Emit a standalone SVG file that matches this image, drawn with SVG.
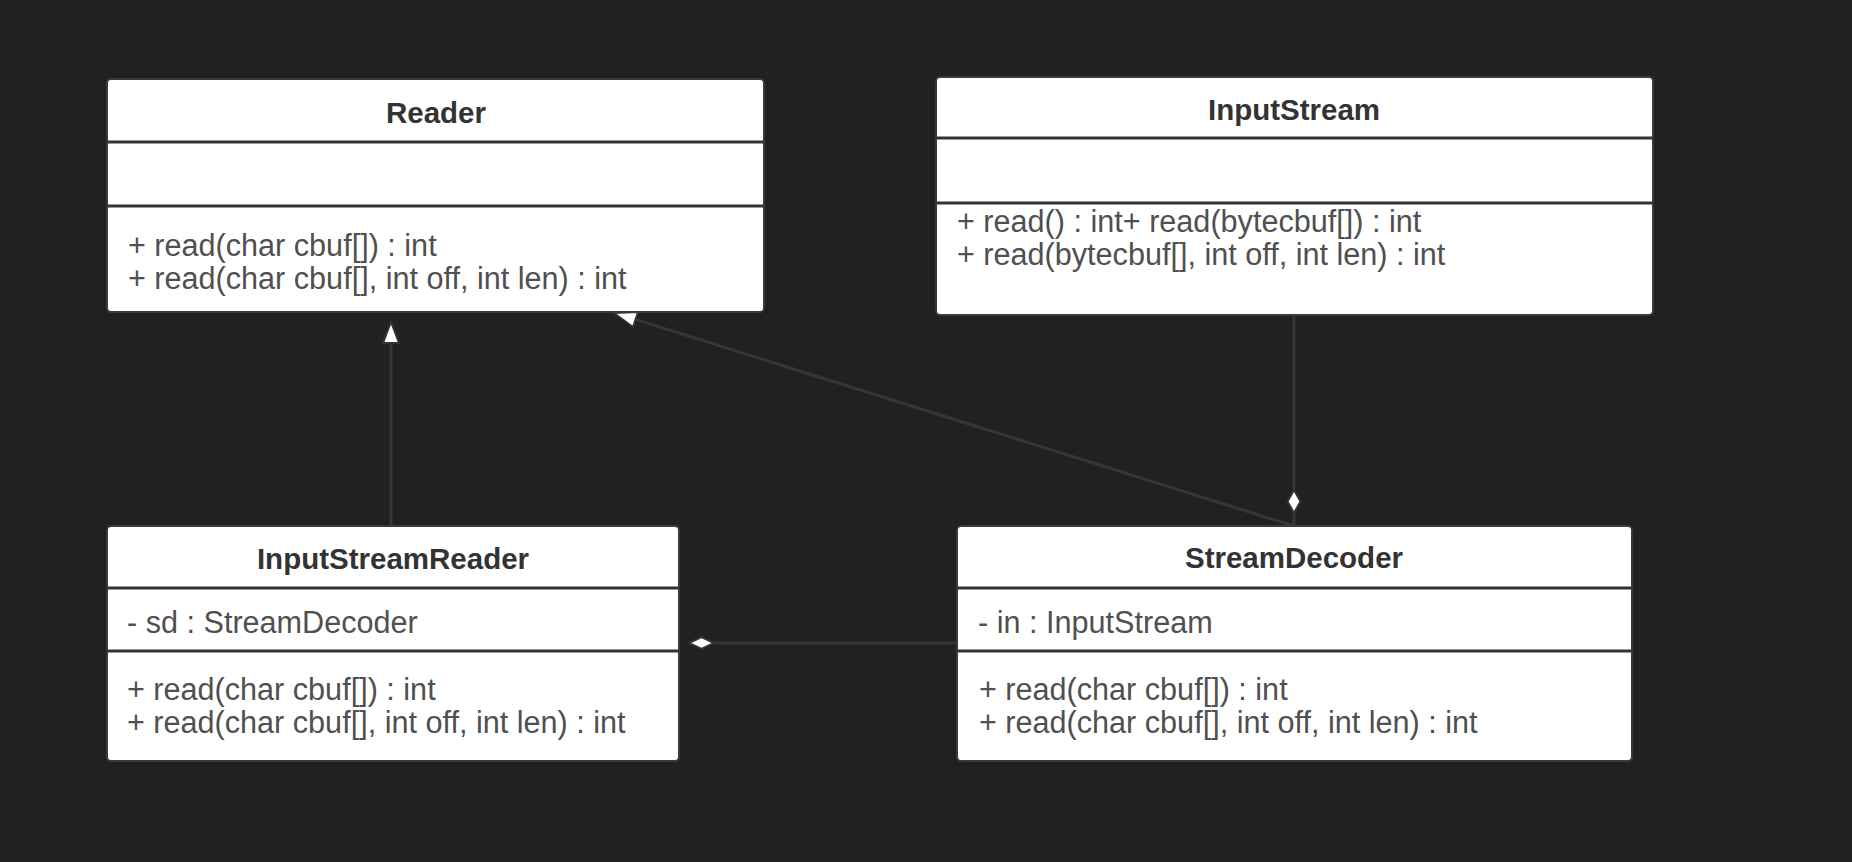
<svg xmlns="http://www.w3.org/2000/svg" width="1852" height="862" viewBox="0 0 1852 862">
<style>
.box{fill:#ffffff;stroke:#3a3a3a;stroke-width:2}
.div{stroke:#333333;stroke-width:3}
.title{font-family:"Liberation Sans",Arial,sans-serif;font-weight:bold;font-size:29.5px;fill:#333333;text-anchor:middle}
.txt{font-family:"Liberation Sans",Arial,sans-serif;font-size:30.6px;fill:#505050}
.conn{stroke:#363636;stroke-width:3;fill:none}
.head{fill:#ffffff;stroke:#333333;stroke-width:2;stroke-linejoin:miter}
</style>
<rect x="0" y="0" width="1852" height="862" fill="#212121"/>

<g id="connectors">
  <!-- InputStreamReader to Reader (generalization) -->
  <line class="conn" x1="391" y1="343" x2="391" y2="525"/>
  <polygon class="head" points="391,322 383,343 399,343"/>
  <!-- StreamDecoder to Reader (generalization) -->
  <line class="conn" x1="635.4" y1="319.4" x2="1294" y2="526"/>
  <polygon class="head" points="614,313 638,312 633,327"/>
  <!-- InputStream to StreamDecoder (aggregation) -->
  <line class="conn" x1="1294" y1="315" x2="1294" y2="490"/>
  <line class="conn" x1="1294" y1="513" x2="1294" y2="525"/>
  <polygon class="head" points="1294,490 1300.5,501.5 1294,513 1287.5,501.5"/>
  <!-- StreamDecoder to InputStreamReader (aggregation) -->
  <line class="conn" x1="714" y1="643" x2="957" y2="643"/>
  <polygon class="head" points="689,643 701.5,637 714,643 701.5,649"/>
</g>

<g id="Reader">
  <rect class="box" x="107" y="79" width="657" height="233" rx="4"/>
  <line class="div" x1="107" y1="142" x2="764" y2="142"/>
  <line class="div" x1="107" y1="206" x2="764" y2="206"/>
  <text class="title" x="436" y="123">Reader</text>
  <text class="txt" x="128" y="256">+ read(char cbuf[]) : int</text>
  <text class="txt" x="128" y="289">+ read(char cbuf[], int off, int len) : int</text>
</g>

<g id="InputStream">
  <rect class="box" x="936" y="77" width="717" height="238" rx="4"/>
  <line class="div" x1="936" y1="138" x2="1653" y2="138"/>
  <line class="div" x1="936" y1="203" x2="1653" y2="203"/>
  <text class="title" x="1294" y="120">InputStream</text>
  <text class="txt" x="957" y="232">+ read() : int+ read(bytecbuf[]) : int</text>
  <text class="txt" x="957" y="265">+ read(bytecbuf[], int off, int len) : int</text>
</g>

<g id="InputStreamReader">
  <rect class="box" x="107" y="526" width="572" height="235" rx="4"/>
  <line class="div" x1="107" y1="588" x2="679" y2="588"/>
  <line class="div" x1="107" y1="651" x2="679" y2="651"/>
  <text class="title" x="393" y="569">InputStreamReader</text>
  <text class="txt" x="127" y="633">- sd : StreamDecoder</text>
  <text class="txt" x="127" y="700">+ read(char cbuf[]) : int</text>
  <text class="txt" x="127" y="733">+ read(char cbuf[], int off, int len) : int</text>
</g>

<g id="StreamDecoder">
  <rect class="box" x="957" y="526" width="675" height="235" rx="4"/>
  <line class="div" x1="957" y1="588" x2="1632" y2="588"/>
  <line class="div" x1="957" y1="651" x2="1632" y2="651"/>
  <text class="title" x="1294" y="568">StreamDecoder</text>
  <text class="txt" x="978" y="633">- in : InputStream</text>
  <text class="txt" x="979" y="700">+ read(char cbuf[]) : int</text>
  <text class="txt" x="979" y="733">+ read(char cbuf[], int off, int len) : int</text>
</g>
</svg>
